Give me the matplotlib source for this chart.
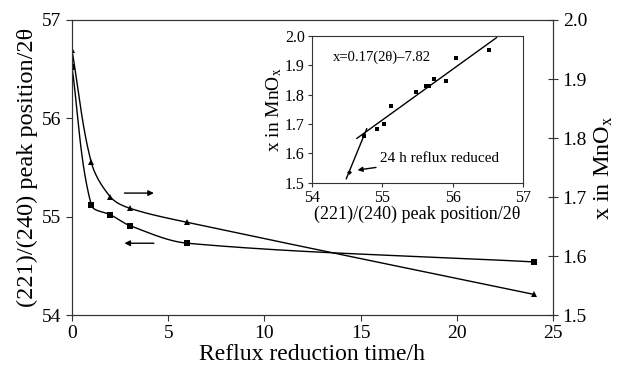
import numpy as np
import matplotlib
matplotlib.use("Agg")
import matplotlib.pyplot as plt

plt.rcParams['font.family'] = ['Liberation Serif', 'DejaVu Serif']
plt.rcParams['mathtext.fontset'] = 'stix'

# ====== data ======
time_h = [0, 1, 2, 3, 6, 24]
peak_pos = [56.52, 55.12, 55.02, 54.91, 54.73, 54.54]     # left axis, squares
x_mnox = [1.949, 1.759, 1.700, 1.681, 1.657, 1.535]       # right axis, triangles

# inset: x in MnOx vs peak position
inset_2theta = [54.74, 54.92, 55.03, 55.12, 55.48, 55.62, 55.66, 55.74, 55.90, 56.04, 56.52]
inset_x = [1.660, 1.682, 1.700, 1.760, 1.807, 1.830, 1.830, 1.853, 1.847, 1.923, 1.950]
fit_range = [54.64, 56.62]
reflux_2theta = [54.53]
reflux_x = [1.537]
reflux_line_range = [54.49, 54.78]

xticks = [0, 5, 10, 15, 20, 25]
left_ticks = [54, 55, 56, 57]
right_ticks = [1.5, 1.6, 1.7, 1.8, 1.9, 2.0]
inset_xticks = [54, 55, 56, 57]
inset_yticks = [1.5, 1.6, 1.7, 1.8, 1.9, 2.0]


def smooth(ax, xs, ys, n=60, s=0.33):
    # spreadsheet-style smoothed line: cubic Bezier pieces in pixel space,
    # tangent along the neighbour chord, handle length scaled by segment length
    pts = ax.transData.transform(np.column_stack([xs, ys]))
    m = len(pts)
    tang = []
    for i in range(m):
        d = pts[min(i + 1, m - 1)] - pts[max(i - 1, 0)]
        tang.append(d / np.linalg.norm(d))
    out = []
    u = np.linspace(0, 1, n)[:, None]
    for i in range(m - 1):
        p0, p3 = pts[i], pts[i + 1]
        L = np.linalg.norm(p3 - p0)
        p1 = p0 + tang[i] * L * s
        p2 = p3 - tang[i + 1] * L * s
        seg = ((1 - u) ** 3 * p0 + 3 * (1 - u) ** 2 * u * p1
               + 3 * (1 - u) * u ** 2 * p2 + u ** 3 * p3)
        out.append(seg)
    out = np.vstack(out)
    d = ax.transData.inverted().transform(out)
    return d[:, 0], d[:, 1]


fig = plt.figure(figsize=(6.18, 3.71), dpi=100)
ax = fig.add_axes([0.1165, 0.1509, 0.7783, 0.7952])
ax2 = ax.twinx()

ax.set_xlim(0, 25)
ax.set_ylim(54, 57)
ax2.set_ylim(1.5, 2.0)
fig.canvas.draw()

sx, sy = smooth(ax, time_h, peak_pos)
ax.plot(sx, sy, color='black', lw=1.0)
ax.plot(time_h, peak_pos, 's', color='black', ms=4, mew=0)

tx, ty = smooth(ax2, time_h, x_mnox)
ax2.plot(tx, ty, color='black', lw=1.0)
ax2.plot(time_h, x_mnox, '^', color='black', ms=4.5, mew=0)

# direction arrows
ax.annotate('', xy=(4.4, 55.24), xytext=(2.58, 55.24),
            arrowprops=dict(arrowstyle='-|>', color='black', lw=1.0, mutation_scale=8))
ax.annotate('', xy=(2.58, 54.73), xytext=(4.4, 54.73),
            arrowprops=dict(arrowstyle='-|>', color='black', lw=1.0, mutation_scale=8))

ax.set_xticks(xticks)
ax.set_yticks(left_ticks)
ax2.set_yticks(right_ticks)
ax2.set_yticklabels([f'{v:.1f}' for v in right_ticks])
ax.tick_params(axis='both', direction='out', length=4, labelsize=14, color='#333333')
ax2.tick_params(axis='y', direction='inout', length=7, labelsize=14, color='#333333')
for a in (ax, ax2):
    for s in a.spines.values():
        s.set_color('#333333')

ax.set_xlabel('Reflux reduction time/h', fontsize=17, labelpad=1)
ax.set_ylabel('(221)/(240) peak position/2θ', fontsize=17.5, labelpad=3)
ax2.set_ylabel('x in MnO$_{\\mathrm{x}}$', fontsize=17.5, labelpad=4)

# ====== inset ======
ins = fig.add_axes([0.5044, 0.5075, 0.3424, 0.3963])
ins.set_xlim(54, 57)
ins.set_ylim(1.5, 2.0)
ins.plot(inset_2theta, inset_x, 's', color='black', ms=3.5, mew=0)

coef = np.polyfit(inset_2theta, inset_x, 1)
fx = np.array(fit_range)
ins.plot(fx, np.polyval(coef, fx), color='black', lw=1.0)

# steep line from the 24 h point through the first square
rc = np.polyfit([reflux_2theta[0], inset_2theta[0]], [reflux_x[0], inset_x[0]], 1)
rx = np.array(reflux_line_range)
ins.plot(rx, np.polyval(rc, rx), color='black', lw=1.0)
ins.plot(reflux_2theta, reflux_x, 'D', color='black', ms=2.5, mew=0)

ins.text(54.30, 1.927, 'x=0.17(2θ)–7.82', fontsize=10.5, va='center', ha='left')
ins.annotate('24 h reflux reduced', xy=(54.65, 1.543), xytext=(54.97, 1.583),
             fontsize=11, va='center', ha='left',
             arrowprops=dict(arrowstyle='-|>', color='black', lw=1.0, mutation_scale=7,
                             shrinkA=1, shrinkB=0))

ins.set_xticks(inset_xticks)
ins.set_yticks(inset_yticks)
ins.set_yticklabels([f'{v:.1f}' for v in inset_yticks])
ins.tick_params(axis='both', direction='out', length=3, labelsize=11.5, pad=2, color='#333333')
for s in ins.spines.values():
    s.set_color('#333333')
ins.set_xlabel('(221)/(240) peak position/2θ', fontsize=13, labelpad=0)
ins.set_ylabel('x in MnO$_{\\mathrm{x}}$', fontsize=14, labelpad=1)

fig.savefig('out.png', dpi=100)
